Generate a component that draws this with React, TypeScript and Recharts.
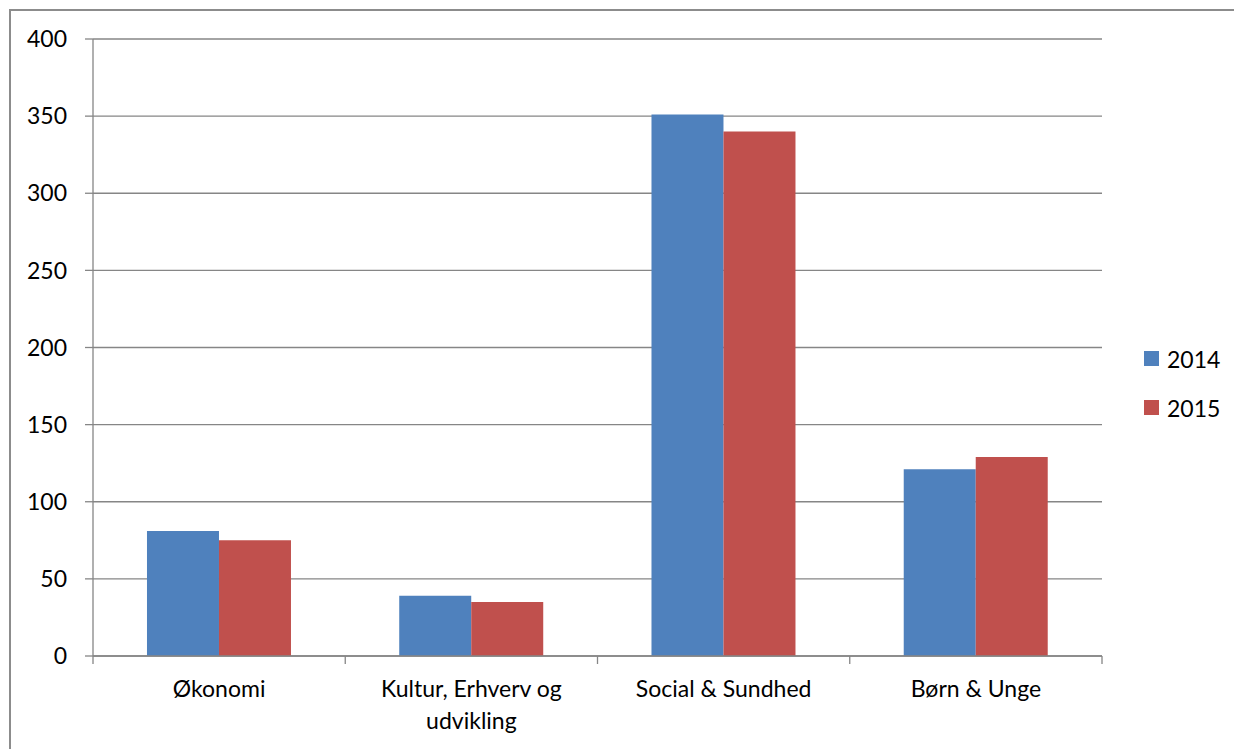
import React from 'react';
import { BarChart, Bar, XAxis, YAxis, CartesianGrid, Legend } from 'recharts';

const categories = ['Økonomi', 'Kultur, Erhverv og udvikling', 'Social & Sundhed', 'Børn & Unge'];
const values2014 = [81, 39, 351, 121];
const values2015 = [75, 35, 340, 129];
const yTicks = [0, 50, 100, 150, 200, 250, 300, 350, 400];

const data = categories.map((name, i) => ({
  name,
  y2014: values2014[i],
  y2015: values2015[i],
}));

const FONT = 'Lato, "Open Sans", sans-serif';
const AXIS = '#868686';

const wrapLabel = (label: string, maxChars: number) => {
  const words = label.split(' ');
  const lines: string[] = [];
  let cur = '';
  words.forEach((w) => {
    const next = cur ? `${cur} ${w}` : w;
    if (next.length > maxChars && cur) {
      lines.push(cur);
      cur = w;
    } else {
      cur = next;
    }
  });
  if (cur) lines.push(cur);
  return lines;
};

// category label + tick marks at the band edges (Excel style)
const CategoryTick = (props: any) => {
  const { x, y, payload, index, width } = props;
  const half = width / categories.length / 2;
  const lines = wrapLabel(String(payload.value), 19);
  return (
    <g>
      <line x1={x - half} x2={x - half} y1={y} y2={y + 8} stroke={AXIS} strokeWidth={1.3} />
      {index === categories.length - 1 && (
        <line x1={x + half} x2={x + half} y1={y} y2={y + 8} stroke={AXIS} strokeWidth={1.3} />
      )}
      <text x={x} y={y + 41} textAnchor="middle" fill="#000" fontSize={23} fontFamily={FONT}>
        {lines.map((l, i) => (
          <tspan key={i} x={x} dy={i === 0 ? 0 : 32}>
            {l}
          </tspan>
        ))}
      </text>
    </g>
  );
};

const LegendContent = (props: any) => {
  const items = props.payload || [];
  return (
    <div style={{ fontFamily: FONT, fontSize: 23, color: '#000' }}>
      {items.map((it: any) => (
        <div key={it.value} style={{ display: 'flex', alignItems: 'center', height: 49 }}>
          <span style={{ width: 15, height: 15, background: it.color, marginRight: 8, display: 'inline-block' }} />
          <span>{it.value}</span>
        </div>
      ))}
    </div>
  );
};

export default function App() {
  return (
    <div style={{ position: 'absolute', left: 0, top: 0, width: 1234, height: 749, background: '#fff', overflow: 'hidden' }}>
      <div
        style={{
          position: 'absolute',
          left: 9,
          top: 9,
          width: 1400,
          height: 900,
          borderLeft: '2px solid #8c8c8c',
          borderTop: '2px solid #8c8c8c',
          boxSizing: 'border-box',
        }}
      />
      <div style={{ position: 'absolute', left: 0, top: 0 }}>
        <BarChart
          width={1234}
          height={749}
          data={data}
          margin={{ top: 39, right: 42, bottom: 0, left: 0 }}
          barCategoryGap="21.4%"
          barGap={0}
        >
          <CartesianGrid vertical={false} stroke={AXIS} strokeWidth={1.3} />
          <XAxis
            dataKey="name"
            height={93}
            tickLine={false}
            tickSize={0}
            tickMargin={0}
            axisLine={{ stroke: AXIS, strokeWidth: 1.3 }}
            tick={<CategoryTick />}
            interval={0}
          />
          <YAxis
            width={93}
            domain={[0, 400]}
            ticks={yTicks}
            tickSize={8}
            tickMargin={18}
            axisLine={{ stroke: AXIS, strokeWidth: 1.3 }}
            tickLine={{ stroke: AXIS, strokeWidth: 1.3 }}
            tick={{ fill: '#000', fontSize: 23, fontFamily: FONT }}
          />
          <Legend
            layout="vertical"
            verticalAlign="top"
            align="right"
            content={<LegendContent />}
            wrapperStyle={{ left: 1144, top: 334, width: 90 }}
          />
          <Bar dataKey="y2014" name="2014" fill="#4F81BD" isAnimationActive={false} />
          <Bar dataKey="y2015" name="2015" fill="#C0504D" isAnimationActive={false} />
        </BarChart>
      </div>
    </div>
  );
}
